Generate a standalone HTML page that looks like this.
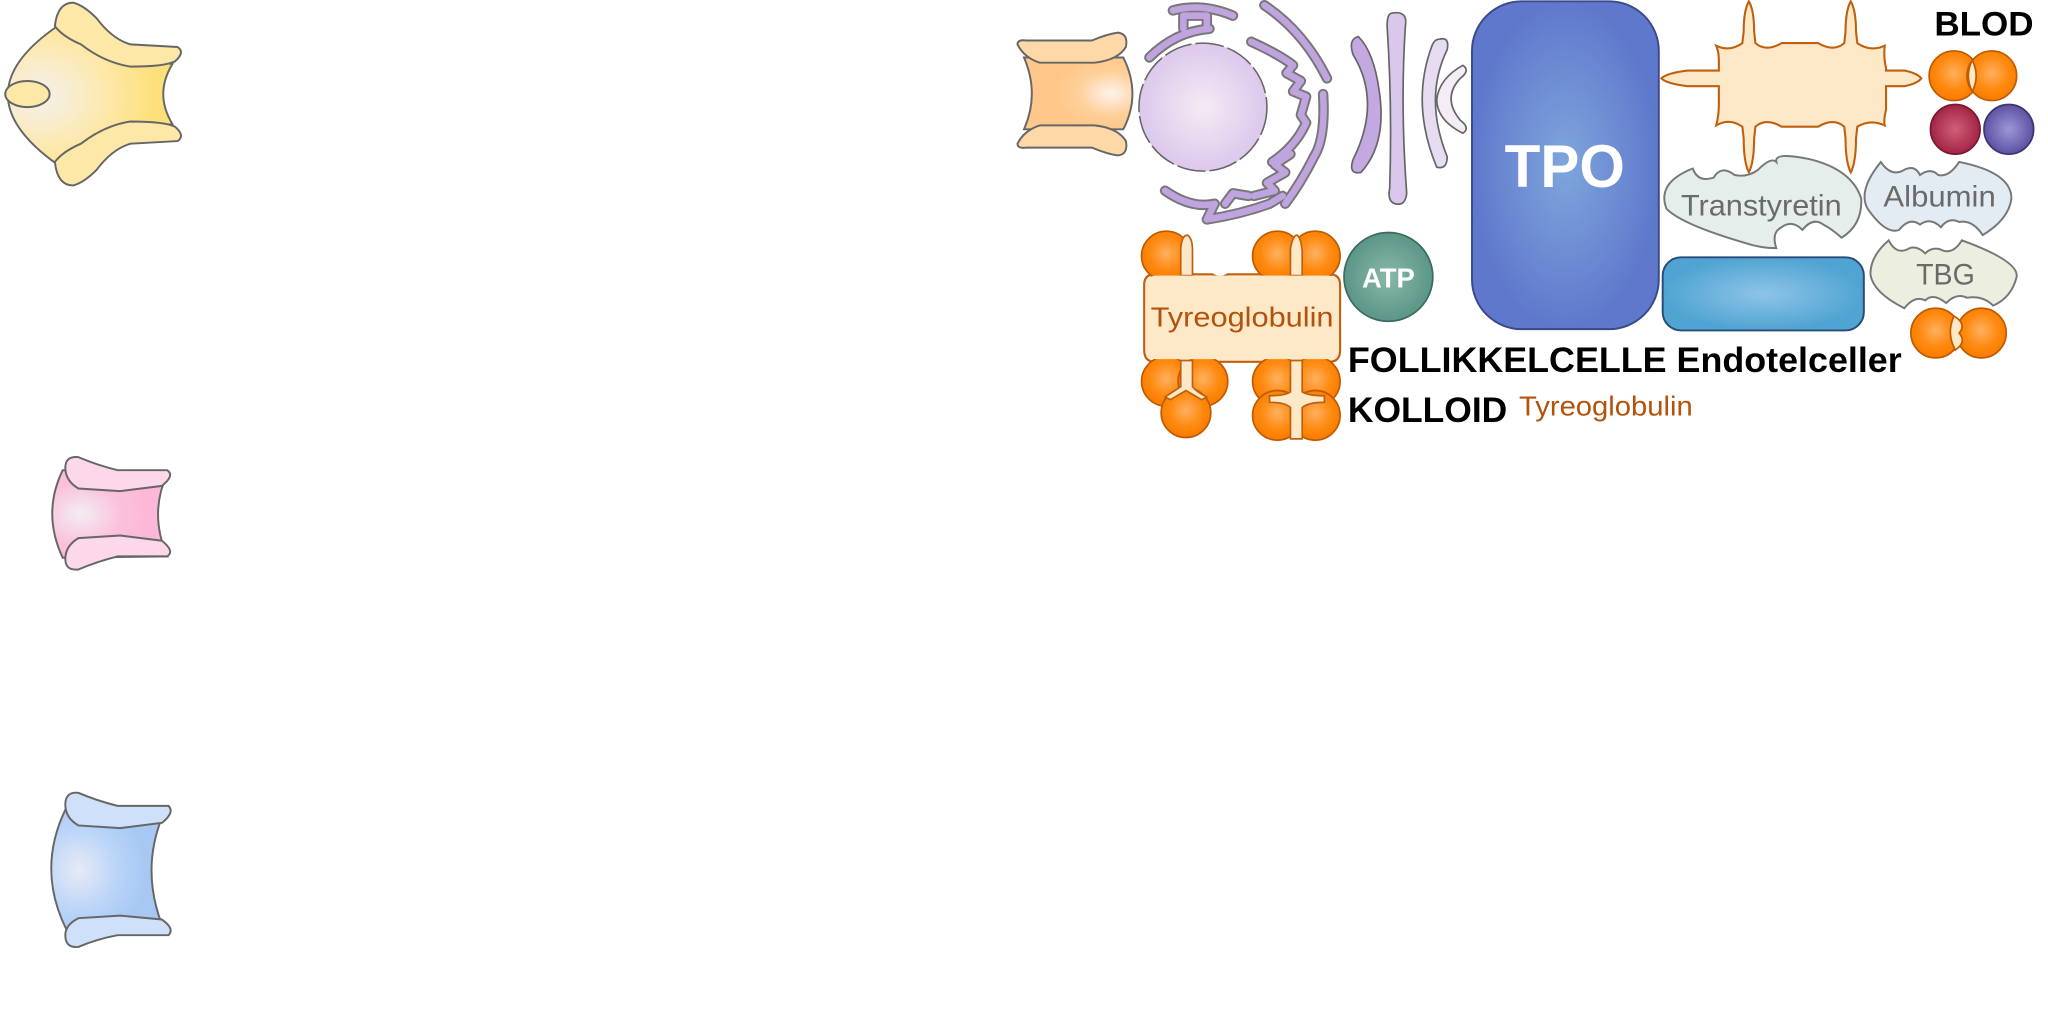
<!DOCTYPE html>
<html><head><meta charset="utf-8"><style>
html,body{margin:0;padding:0;background:#fff;}
svg{display:block;}
text{font-family:"Liberation Sans",Arial,sans-serif;}
</style></head><body>
<svg width="2048" height="1024" viewBox="0 0 1568 784" xmlns="http://www.w3.org/2000/svg">
<defs>
<radialGradient id="gy" cx="0.2" cy="0.5" r="0.7"><stop offset="0" stop-color="#f4f1ee"/><stop offset="0.6" stop-color="#fde8a8"/><stop offset="1" stop-color="#fde07a"/></radialGradient>
<radialGradient id="gp" cx="0.25" cy="0.5" r="0.6"><stop offset="0" stop-color="#f2eef2"/><stop offset="0.6" stop-color="#fcc0dc"/><stop offset="1" stop-color="#fcb8d6"/></radialGradient>
<radialGradient id="gb" cx="0.25" cy="0.5" r="0.6"><stop offset="0" stop-color="#e8eaf6"/><stop offset="0.6" stop-color="#b8d4f8"/><stop offset="1" stop-color="#a8c8f4"/></radialGradient>
<radialGradient id="go" cx="0.8" cy="0.5" r="0.5"><stop offset="0" stop-color="#fdf2ee"/><stop offset="0.6" stop-color="#ffd09a"/><stop offset="1" stop-color="#ffc88a"/></radialGradient>
<radialGradient id="gn"><stop offset="0" stop-color="#f6eaf4"/><stop offset="1" stop-color="#dcc8ec"/></radialGradient>
<radialGradient id="gt"><stop offset="0" stop-color="#7ea6dc"/><stop offset="1" stop-color="#6078cc"/></radialGradient>
<radialGradient id="gbl"><stop offset="0" stop-color="#8ec4e8"/><stop offset="1" stop-color="#50a4d2"/></radialGradient>
<radialGradient id="gorb" cx="0.5" cy="0.45" r="0.55"><stop offset="0" stop-color="#ffb060"/><stop offset="0.6" stop-color="#ff8a10"/><stop offset="1" stop-color="#f87c00"/></radialGradient>
<radialGradient id="gred"><stop offset="0" stop-color="#d0607a"/><stop offset="1" stop-color="#a22444"/></radialGradient>
<radialGradient id="gpur"><stop offset="0" stop-color="#9c98d8"/><stop offset="1" stop-color="#5c52a2"/></radialGradient>
<radialGradient id="gatp"><stop offset="0" stop-color="#8ab8aa"/><stop offset="1" stop-color="#5a9686"/></radialGradient>
</defs>

<!-- yellow cell -->
<g stroke="#666" stroke-width="1.5">
<path d="M44,20 Q-32,72 44,126 L92,100 L132,95 Q118,72 132,49 L92,44 Z" fill="url(#gy)"/>
<path d="M42,20 Q44,2 56,2 Q64,4 74,14 Q86,30 100,34 L136,36 Q142,40 134,47 Q126,51 100,51 Q80,48 62,34 Q48,28 42,20 Z" fill="#fde8a8"/>
<path d="M42,124 Q44,142 56,142 Q64,140 74,130 Q86,114 100,110 L136,108 Q142,104 134,97 Q126,93 100,93 Q80,96 62,110 Q48,116 42,124 Z" fill="#fde8a8"/>
<ellipse cx="21" cy="72" rx="17" ry="10" fill="#fde8a8"/>
</g>

<!-- pink cell -->
<g stroke="#666" stroke-width="1.5">
<path d="M48,360 Q32,393 48,427 L128,426 Q114,393 128,363 Z" fill="url(#gp)"/>
<path d="M50,358 Q50,349 60,350 Q74,356 90,360 L128,360 Q134,364 124,372 L92,376 L60,374 Q50,368 50,358 Z" fill="#fdd8ea"/>
<path d="M50,428 Q50,437 60,436 Q74,430 90,426 L128,426 Q134,422 124,414 L92,410 L60,412 Q50,418 50,428 Z" fill="#fdd8ea"/>
</g>
<!-- blue cell -->
<g stroke="#666" stroke-width="1.5">
<path d="M50,620 Q28,666 51,712 L124,708 Q108,666 124,626 Z" fill="url(#gb)"/>
<path d="M50,616 Q50,606 60,607 Q74,613 90,617 L129,617 Q134,622 124,630 L92,634 L60,632 Q50,626 50,616 Z" fill="#cfe0fa"/>
<path d="M50,716 Q50,726 60,725 Q74,719 90,716 L129,716 Q134,711 124,704 L92,701 L60,703 Q50,708 50,716 Z" fill="#cfe0fa"/>
</g>

<!-- orange cup -->
<g stroke="#666" stroke-width="1.5">
<path d="M784,44 Q796,72 784,99 L860,99 Q874,72 860,44 Z" fill="url(#go)"/>
<path d="M779,34 Q779,30 786,31 L836,31 Q848,26 856,25 Q864,26 862,36 Q856,46 838,48 L796,48 Q784,44 779,34 Z" fill="#ffd8a8"/>
<path d="M779,110 Q779,114 786,113 L836,113 Q848,118 856,119 Q864,118 862,108 Q856,98 838,96 L796,96 Q784,100 779,110 Z" fill="#ffd8a8"/>
</g>

<!-- nucleus + ER -->
<circle cx="921" cy="82" r="49" fill="url(#gn)" stroke="#666" stroke-width="1.2" stroke-dasharray="22 3"/>
<g fill="none" stroke-linecap="round" stroke-linejoin="round">
<g stroke="#777" stroke-width="8">
<path d="M880,44 Q900,24 926,22"/>
<path d="M906,22 L906,12 L924,12 L924,22"/>
<path d="M898,8 Q920,2 944,12"/>
<path d="M968,4 Q998,24 1016,60"/>
<path d="M958,32 Q980,42 990,50 L985,56 L996,62 L990,70 L1000,74 L996,88 L1000,94 Q992,112 974,124"/>
<path d="M1013,72 Q1015,106 1006,120 Q996,140 984,156"/>
<path d="M988,118 L976,126 L984,132 L970,140 L976,146 L960,150"/>
<path d="M892,146 Q912,160 930,156 L924,168 Q950,164 972,156 L982,150"/>
<path d="M938,156 L944,148 L956,150"/>
</g>
<g stroke="#c0a4e0" stroke-width="5">
<path d="M880,44 Q900,24 926,22"/>
<path d="M906,22 L906,12 L924,12 L924,22"/>
<path d="M898,8 Q920,2 944,12"/>
<path d="M968,4 Q998,24 1016,60"/>
<path d="M958,32 Q980,42 990,50 L985,56 L996,62 L990,70 L1000,74 L996,88 L1000,94 Q992,112 974,124"/>
<path d="M1013,72 Q1015,106 1006,120 Q996,140 984,156"/>
<path d="M988,118 L976,126 L984,132 L970,140 L976,146 L960,150"/>
<path d="M892,146 Q912,160 930,156 L924,168 Q950,164 972,156 L982,150"/>
<path d="M938,156 L944,148 L956,150"/>
</g>
</g>

<!-- golgi -->
<g stroke="#666" stroke-width="1.3">
<path d="M1040,28 Q1032,30 1036,42 Q1058,78 1036,122 Q1032,134 1042,132 Q1062,110 1056,70 Q1052,40 1040,28 Z" fill="#c4a8e2"/>
<path d="M1066,10 Q1078,8 1076,20 Q1072,80 1077,148 Q1076,158 1068,156 Q1062,154 1064,144 Q1066,80 1062,20 Q1062,10 1066,10 Z" fill="#dac8ec"/>
<path d="M1102,30 Q1110,28 1108,38 Q1090,75 1108,120 Q1108,130 1100,128 Q1080,80 1096,36 Q1098,30 1102,30 Z" fill="#e8dcf2"/>
<path d="M1120,50 Q1126,54 1118,60 Q1104,75 1118,92 Q1126,98 1120,102 Q1100,92 1100,76 Q1102,60 1120,50 Z" fill="#f4ecf6"/>
</g>

<!-- TPO -->
<rect x="1127" y="1" width="143" height="251" rx="38" fill="url(#gt)" stroke="#3a4a8a" stroke-width="1.5"/>
<text x="1198" y="143" font-size="46" font-weight="bold" fill="#fff" text-anchor="middle" textLength="92" lengthAdjust="spacingAndGlyphs">TPO</text>

<!-- spiky cell -->
<path d="M1339,1 Q1343,8 1343,24 L1344,33 Q1352,40 1364,33 L1392,33 Q1404,40 1412,33 L1413,24 Q1413,8 1417,1 Q1421,8 1421,24 L1422,33 Q1432,40 1443,35 Q1442,44 1444,52 L1444,54 L1458,54 Q1468,56 1471,60 Q1468,64 1458,66 L1444,66 L1444,84 Q1442,92 1443,96 Q1432,91 1422,97 L1421,106 Q1421,124 1417,132 Q1413,124 1413,106 L1412,97 Q1404,90 1392,97 L1364,97 Q1352,90 1344,97 L1343,106 Q1343,124 1339,132 Q1335,124 1335,106 L1334,97 Q1324,90 1314,96 Q1316,88 1316,80 L1316,66 L1292,66 Q1276,64 1272,60 Q1276,56 1292,54 L1316,54 L1316,46 Q1316,40 1314,35 Q1324,40 1334,33 L1335,24 Q1335,8 1339,1 Z" fill="#fde9c8" stroke="#c0600e" stroke-width="1.6"/>

<!-- BLOD -->
<text x="1481" y="27" font-size="26" font-weight="bold" fill="#000" textLength="76" lengthAdjust="spacingAndGlyphs">BLOD</text>
<g stroke="#c05a00" stroke-width="1.3">
<circle cx="1496" cy="58" r="19" fill="url(#gorb)"/>
<circle cx="1525" cy="58" r="19" fill="url(#gorb)"/>
<path d="M1510,46 Q1504,58 1510,70 Q1516,58 1510,46 Z" fill="#fde9c8"/>
<circle cx="1497" cy="99" r="19" fill="url(#gred)" stroke="#7a1830"/>
<circle cx="1538" cy="99" r="19" fill="url(#gpur)" stroke="#3c3474"/>
</g>

<!-- Transtyretin -->
<path d="M1296,129 Q1300,140 1312,136 Q1318,126 1328,134 Q1338,136 1346,130 Q1356,120 1360,124 Q1358,116 1386,122 Q1418,130 1425,152 Q1426,172 1410,182 Q1402,175 1396,172 Q1388,166 1380,176 Q1372,168 1364,174 Q1356,178 1360,190 Q1348,190 1336,186 Q1288,172 1276,160 Q1268,140 1296,129 Z" fill="#e6eeec" stroke="#777" stroke-width="1.5"/>
<text x="1287" y="165" font-size="23" fill="#6a6a6a" textLength="123" lengthAdjust="spacingAndGlyphs">Transtyretin</text>
<!-- Albumin -->
<path d="M1440,124 Q1448,136 1458,130 Q1466,126 1470,134 Q1478,128 1484,134 Q1492,136 1500,124 Q1540,132 1540,152 Q1538,168 1518,180 Q1510,168 1500,170 Q1492,166 1486,174 Q1478,166 1470,172 Q1462,166 1454,176 Q1444,180 1430,160 Q1422,146 1440,124 Z" fill="#e2ecf2" stroke="#777" stroke-width="1.5"/>
<text x="1442" y="158" font-size="23" fill="#6a6a6a" textLength="86" lengthAdjust="spacingAndGlyphs">Albumin</text>
<!-- TBG -->
<path d="M1446,184 Q1452,196 1462,190 Q1468,188 1474,194 Q1480,188 1488,192 Q1496,194 1502,184 Q1546,200 1544,212 Q1540,228 1526,234 Q1518,226 1506,228 Q1498,224 1490,232 Q1480,224 1474,230 Q1466,226 1458,236 Q1434,224 1432,210 Q1432,196 1446,184 Z" fill="#ecefe0" stroke="#777" stroke-width="1.5"/>
<text x="1467" y="218" font-size="23" fill="#6a6a6a" textLength="45" lengthAdjust="spacingAndGlyphs">TBG</text>

<!-- blue rect -->
<rect x="1273" y="197" width="154" height="56" rx="14" fill="url(#gbl)" stroke="#2a4a7a" stroke-width="1.5"/>

<!-- orange pair -->
<g stroke="#c05a00" stroke-width="1.3">
<circle cx="1482" cy="255" r="19" fill="url(#gorb)"/>
<circle cx="1517" cy="255" r="19" fill="url(#gorb)"/>
<path d="M1496,242 Q1490,255 1497,268 Q1506,262 1500,255 Q1506,248 1496,242 Z" fill="#fde9c8"/>
</g>

<!-- ATP -->
<circle cx="1063" cy="212" r="34" fill="url(#gatp)" stroke="#3a6a60" stroke-width="1.3"/>
<text x="1063" y="220" font-size="21" font-weight="bold" fill="#fff" text-anchor="middle">ATP</text>

<!-- Tyreoglobulin complex -->
<g stroke="#c05a00" stroke-width="1.3">
<path d="M876,218 Q876,210 884,210 L904,210 L928,210 Q934,214 940,210 L1018,210 Q1026,210 1026,218 L1026,268 Q1026,277 1018,277 L884,277 Q876,277 876,268 Z" fill="#fde9c8" stroke="#c0600e" stroke-width="1.6"/>
<circle cx="893" cy="196" r="19" fill="url(#gorb)"/>
<circle cx="978" cy="196" r="19" fill="url(#gorb)"/>
<circle cx="1007" cy="196" r="19" fill="url(#gorb)"/>
<circle cx="893" cy="292" r="19" fill="url(#gorb)"/>
<circle cx="921" cy="292" r="19" fill="url(#gorb)"/>
<circle cx="908" cy="316" r="19" fill="url(#gorb)"/>
<circle cx="978" cy="292" r="19" fill="url(#gorb)"/>
<circle cx="1007" cy="292" r="19" fill="url(#gorb)"/>
<circle cx="978" cy="318" r="19" fill="url(#gorb)"/>
<circle cx="1007" cy="318" r="19" fill="url(#gorb)"/>
<path d="M904,211 L904,190 Q905,180 909,180 Q913,182 913,192 L913,211 Z" fill="#fde9c8" stroke="#c0600e"/>
<path d="M988,211 L988,190 Q990,180 993,180 Q996,182 997,192 L997,211 Z" fill="#fde9c8" stroke="#c0600e"/>
<path d="M904,276 L904,296 Q898,300 892,304 L896,306 L908,299 L920,306 L924,304 Q916,300 913,296 L913,276 Z" fill="#fde9c8" stroke="#c0600e"/>
<path d="M988,276 L988,300 Q984,303 972,303 L972,308 Q984,308 988,312 L988,336 L997,336 L997,312 Q1002,308 1014,308 L1014,303 Q1002,303 997,300 L997,276 Z" fill="#fde9c8" stroke="#c0600e"/>
</g>
<rect x="877" y="211" width="148" height="64" rx="8" fill="#fde9c8"/>
<text x="881" y="250" font-size="21" fill="#b5520a" textLength="140" lengthAdjust="spacingAndGlyphs">Tyreoglobulin</text>

<!-- labels -->
<text x="1032" y="285" font-size="27" font-weight="bold" fill="#000" textLength="424" lengthAdjust="spacingAndGlyphs">FOLLIKKELCELLE Endotelceller</text>
<text x="1032" y="323" font-size="27" font-weight="bold" fill="#000" textLength="122" lengthAdjust="spacingAndGlyphs">KOLLOID</text>
<text x="1163" y="318" font-size="21" fill="#b5520a" textLength="133" lengthAdjust="spacingAndGlyphs">Tyreoglobulin</text>
</svg>
</body></html>
